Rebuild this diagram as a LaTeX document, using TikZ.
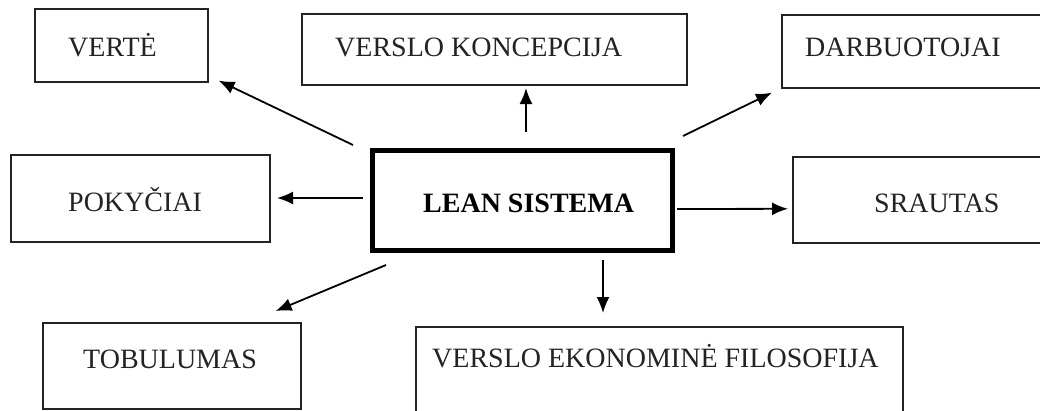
\documentclass[tikz,border=0pt]{standalone}
\usepackage{fontspec}
\setmainfont{Liberation Serif}
\usetikzlibrary{arrows.meta,calc}
\definecolor{ink}{RGB}{35,35,35}
\begin{document}
\begin{tikzpicture}[x=1pt,y=-1pt,
  box/.style={draw=ink,line width=1.6pt,rectangle,inner sep=0pt,anchor=north west},
  leanbox/.style={draw=black,line width=5pt,rectangle,inner sep=0pt},
  lbl/.style={anchor=base west,inner sep=0pt,text=ink,font=\fontsize{28}{30}\selectfont},
  arr/.style={draw=black,line width=1.8pt,-{Latex[length=16pt,width=13pt]}}]
\useasboundingbox (0,0) rectangle (1040,410);
\clip (0,0) rectangle (1040,410);
\fill[white] (0,0) rectangle (1040,410);
% boxes
\node[box,minimum width=173pt,minimum height=73pt] (verte) at (34,8) {};
\node[box,minimum width=385pt,minimum height=71pt] (vk) at (301,13) {};
\node[box,minimum width=270pt,minimum height=73pt] (darb) at (781,14) {};
\node[box,minimum width=259pt,minimum height=87pt] (pok) at (10,154) {};
\node[leanbox,minimum width=300pt,minimum height=100pt] (lean) at (522.5,200.5) {};
\node[box,minimum width=260pt,minimum height=86pt] (sra) at (792,156) {};
\node[box,minimum width=258pt,minimum height=86pt] (tob) at (42,322) {};
\node[box,minimum width=487pt,minimum height=100pt] (vef) at (415,326) {};
% labels
\node[lbl] (tverte) at (68,56) {VERTĖ};
\node[lbl] (tvk) at (335,56) {VERSLO KONCEPCIJA};
\node[lbl] (tdarb) at (805,56) {DARBUOTOJAI};
\node[lbl] (tpok) at (68,211) {POKYČIAI};
\node[lbl,text=black,font=\fontsize{28}{30}\selectfont\bfseries] (tlean) at (423,212) {LEAN SISTEMA};
\node[lbl] (tsra) at (874,212) {SRAUTAS};
\node[lbl] (ttob) at (83,368) {TOBULUMAS};
\node[lbl] (tvef) at (432,367) {VERSLO EKONOMINĖ FILOSOFIJA};
% arrows
\draw[arr] ($(lean.north west)+(-17,-3)$) -- ($(verte.south east)+(10,-2)$);
\draw[arr] ($(lean.north)+(3.5,-16)$) -- ++(0,-44);
\draw[arr] ($(lean.north east)+(8,-12)$) -- ($(darb.south west)+(-9,4)$);
\draw[arr] ($(lean.west)+(-7,-2.5)$) -- ++(-86,0);
\draw[arr] ($(lean.east)+(2,8.5)$) -- ($(sra.west)+(-4,9)$);
\draw[arr] ($(lean.south west)+(16,12)$) -- ($(tob.north east)+(-26,-11)$);
\draw[arr] ($(lean.south)+(80.5,7)$) -- ++(0,53);
\end{tikzpicture}
\end{document}
